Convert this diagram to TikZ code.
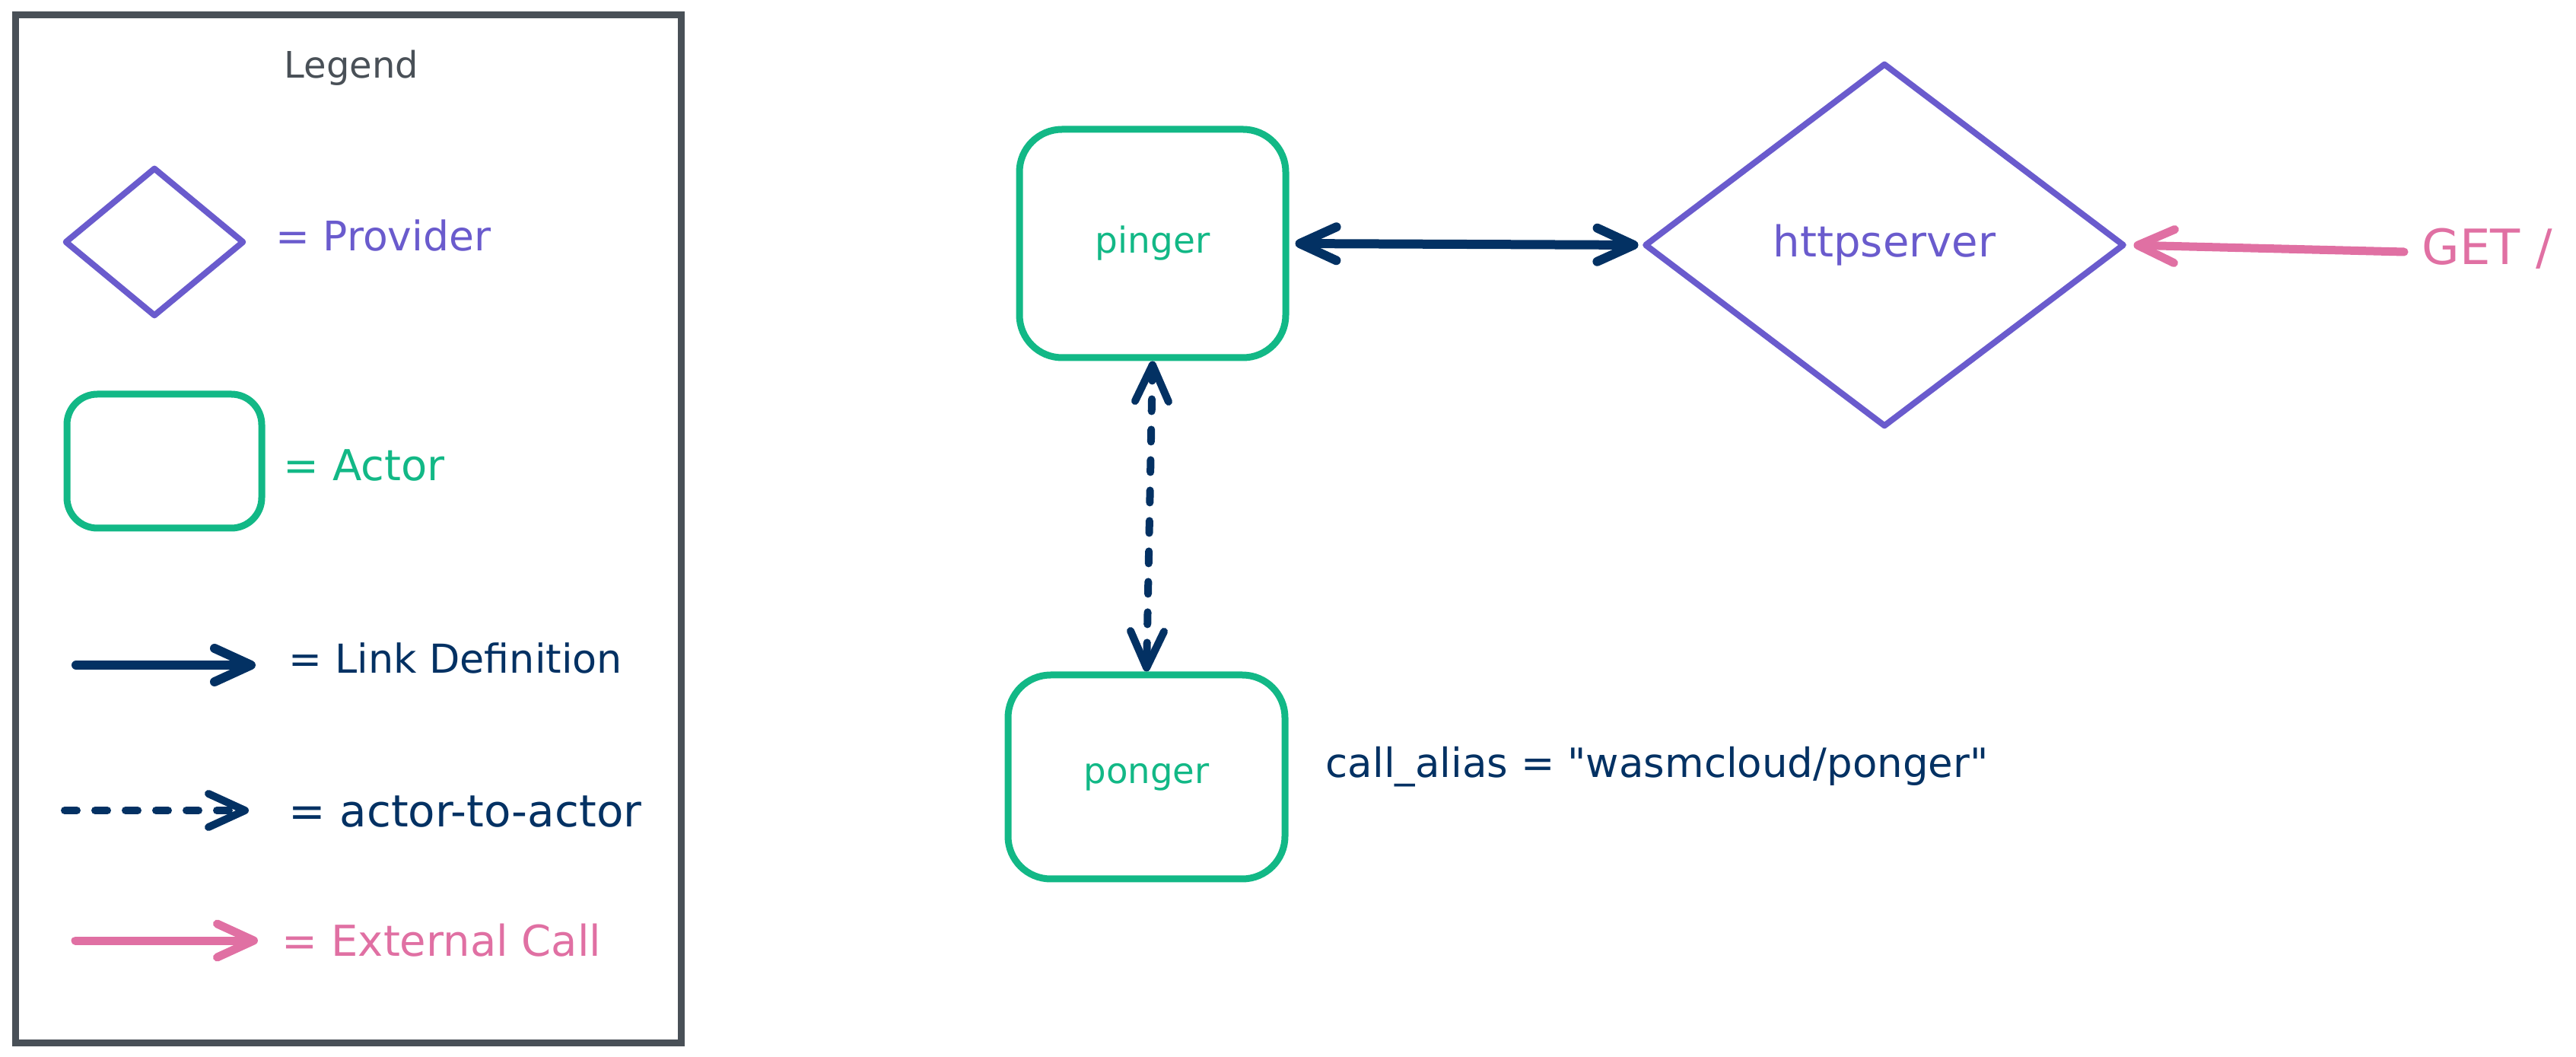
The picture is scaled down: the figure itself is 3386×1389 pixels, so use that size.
\documentclass[tikz,border=0pt]{standalone}
\usepackage{fontspec}
\setmainfont{DejaVu Sans}
\newfontfamily\qfont{DejaVu Sans}[Ligatures=ResetAll]
\usetikzlibrary{arrows.meta,shapes.geometric}
\definecolor{navyc}{RGB}{3,49,99}
\definecolor{pinkc}{RGB}{224,112,163}
\definecolor{greenc}{RGB}{18,184,134}
\definecolor{purplec}{RGB}{106,91,205}
\definecolor{grayc}{RGB}{73,80,87}
\tikzset{
  barb/.tip={Straight Barb[length=12pt,width=11pt,round]},
  actorbox/.style={draw=greenc, line width=2.25pt, rounded corners=12pt, text=greenc, inner sep=0pt},
  provider/.style={draw=purplec, line width=2pt, diamond, text=purplec, inner sep=0pt, line join=round},
  linkline/.style={draw=navyc, line width=3pt, line cap=round},
  dashline/.style={draw=navyc, line width=2.5pt, line cap=round, dash pattern=on 4pt off 6pt},
  extline/.style={draw=pinkc, line width=2.75pt, line cap=round},
  lbl/.style={inner sep=0pt, anchor=base west},
}
\newcommand{\fs}[1]{\fontsize{#1}{#1}\selectfont}
\begin{document}
\begin{tikzpicture}[x=0.25pt,y=-0.25pt]
\useasboundingbox (0,0) rectangle (3386,1389);

% legend frame
\node[draw=grayc, line width=2.25pt, minimum width=218.75pt, minimum height=337.5pt, inner sep=0pt] (legendbox) at (457.5,695) {};
\node[text=grayc, inner sep=0pt, anchor=base] (legendtitle) at (462,103) {\fs{12pt}Legend};

% legend items
\node[provider, minimum width=59pt, minimum height=49pt] (lprov) at (203,318) {};
\node[lbl, text=purplec] (lprovtxt) at (362,330) {\fs{13.4pt}= Provider};

\node[actorbox, rounded corners=10pt, minimum width=64pt, minimum height=44pt] (lactor) at (216,606) {};
\node[lbl, text=greenc] (lactortxt) at (372,632) {\fs{14pt}= Actor};

\coordinate (llinkA) at (100,874);
\coordinate (llinkB) at (336,874);
\draw[linkline, -barb] (llinkA) -- (llinkB);
\node[lbl, text=navyc] (llinktxt) at (379,885) {\fs{13.1pt}= Link Definition};

\coordinate (ldashA) at (85,1065);
\coordinate (ldashB) at (327,1065);
\draw[dashline, -barb] (ldashA) -- (ldashB);
\node[lbl, text=navyc] (ldashtxt) at (379,1087) {\fs{14.5pt}= actor-to-actor};

\coordinate (lextA) at (99,1236);
\coordinate (lextB) at (339,1236);
\draw[extline, -barb] (lextA) -- (lextB);
\node[lbl, text=pinkc] (lexttxt) at (370,1256) {\fs{14pt}= External Call};

% main diagram
\node[actorbox, rounded corners=14pt, minimum width=87.5pt, minimum height=75pt] (pinger) at (1515,320) {\fs{11.75pt}pinger};
\node[actorbox, rounded corners=14pt, minimum width=91pt, minimum height=67pt] (ponger) at (1507,1021) {\fs{11.65pt}ponger};
\node[provider, minimum width=157.75pt, minimum height=119.5pt] (http) at (2477,322) {\fs{14pt}httpserver};

\node[lbl, text=navyc] (alias) at (1742,1022) {\qfont\fs{13.25pt}call\_alias = "wasmcloud/ponger"};
\node[lbl, text=pinkc] (get) at (3183,348) {\fs{16pt}GET /};
\coordinate (getstart) at (3160,331);

\draw[linkline, barb-barb, shorten <=2pt, shorten >=1pt] (pinger.east) -- (http.west);
\draw[dashline, barb-barb] (pinger.south) -- (ponger.north);
\draw[extline, -barb, shorten >=2pt] (getstart) -- (http.east);
\end{tikzpicture}
\end{document}
